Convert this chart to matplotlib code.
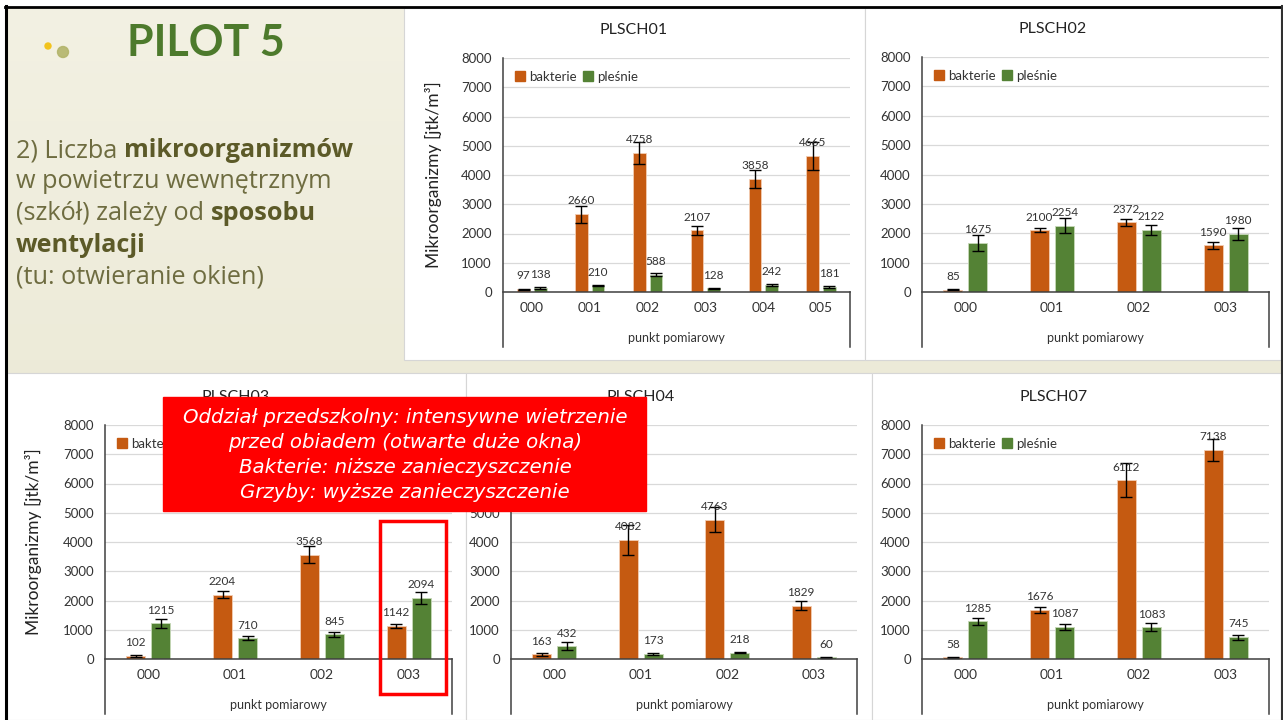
import numpy as np
import matplotlib
matplotlib.use('Agg')
import matplotlib.pyplot as plt
from matplotlib.patches import Rectangle, Circle, Patch
from matplotlib.colors import LinearSegmentedColormap

# ---------------------------------------------------------------- data
CATS6 = ['000', '001', '002', '003', '004', '005']
CATS4 = ['000', '001', '002', '003']

pl01_bak = [97, 2660, 4758, 2107, 3858, 4665]
pl01_ple = [138, 210, 588, 128, 242, 181]
pl01_bak_err = [20, 290, 370, 160, 310, 480]
pl01_ple_err = [20, 20, 50, 15, 25, 35]

pl02_bak = [85, 2100, 2372, 1590]
pl02_ple = [1675, 2254, 2122, 1980]
pl02_bak_err = [15, 65, 115, 120]
pl02_ple_err = [270, 255, 170, 205]

pl03_bak = [102, 2204, 3568, 1142]
pl03_ple = [1215, 710, 845, 2094]
pl03_bak_err = [20, 120, 285, 70]
pl03_ple_err = [150, 75, 85, 205]

pl04_bak = [163, 4082, 4763, 1829]
pl04_ple = [432, 173, 218, 60]
pl04_bak_err = [55, 510, 420, 140]
pl04_ple_err = [140, 30, 20, 15]

pl07_bak = [58, 1676, 6112, 7138]
pl07_ple = [1285, 1087, 1083, 745]
pl07_bak_err = [10, 90, 590, 380]
pl07_ple_err = [110, 110, 140, 90]

NOTE_LINES = ['Oddział przedszkolny: intensywne wietrzenie',
              'przed obiadem (otwarte duże okna)',
              'Bakterie: niższe zanieczyszczenie',
              'Grzyby: wyższe zanieczyszczenie']

# ---------------------------------------------------------------- style
C_ORANGE, C_GREEN = '#c55a11', '#548235'
C_AXIS, C_TEXT, C_GRID = '#404040', '#333333', '#d9d9d9'
C_TITLE, C_BODY, C_BODY_B = '#4d7a2c', '#6e6c40', '#5c5a28'
plt.rcParams['font.family'] = ['Lato', 'DejaVu Sans']

W, H = 1283, 720
fig = plt.figure(figsize=(W / 100, H / 100), dpi=100)


def px_axes(x0, y0, x1, y1, **kw):
    return fig.add_axes([x0 / W, 1 - y1 / H, (x1 - x0) / W, (y1 - y0) / H], **kw)


# ---------------------------------------------------------------- slide background
bg = fig.add_axes([0, 0, 1, 1])
bg.set_xlim(0, W)
bg.set_ylim(H, 0)
bg.axis('off')
grad = np.linspace(0, 1, 256).reshape(-1, 1)
bg.imshow(grad, cmap=LinearSegmentedColormap.from_list('bg', ['#f3f1e3', '#e7e5cf']),
          extent=[0, W, H, 0], aspect='auto', zorder=0)
bg.add_patch(Rectangle((0, 0), W, 6, color='white', zorder=1))
bg.add_patch(Rectangle((0, 0), 5, H, color='white', zorder=1))

# white chart panels
for (x0, y0, x1, y1) in [(404, 8, 865, 360), (865, 8, 1281, 360),
                         (7, 373, 466, 720), (466, 373, 872, 720), (872, 373, 1281, 720)]:
    bg.add_patch(Rectangle((x0, y0), x1 - x0, y1 - y0, facecolor='white',
                           edgecolor='#d6d6d6', lw=0.8, zorder=2))

bg.plot([5, W], [7, 7], color='black', lw=2, zorder=3)
bg.plot([6, 6], [6, H], color='black', lw=2.2, zorder=3)
bg.plot([1281.5, 1281.5], [6, H], color='#303030', lw=1.5, zorder=3)

# decorative dots
bg.add_patch(Circle((63, 52), 5.5, color='#b3b46a', alpha=0.9, zorder=3))
bg.add_patch(Circle((48, 46), 3, color='#f2c31c', zorder=3))

bg.text(127, 56, 'PILOT 5', fontsize=31, fontweight='bold', color=C_TITLE,
        va='baseline', ha='left', zorder=4)

renderer = fig.canvas.get_renderer()


def rich_line(x, y, parts, size=18.2):
    for txt, bold in parts:
        t = bg.text(x, y, txt, fontsize=size, va='baseline', ha='left', zorder=4,
                    family=['Open Sans', 'DejaVu Sans'],
                    fontweight='bold' if bold else 'normal',
                    color=C_BODY_B if bold else C_BODY)
        x += t.get_window_extent(renderer).width


rich_line(16, 157, [('2) Liczba ', False), ('mikroorganizmów', True)])
rich_line(16, 188, [('w powietrzu wewnętrznym', False)])
rich_line(16, 220, [('(szkół) zależy od ', False), ('sposobu', True)])
rich_line(16, 252, [('wentylacji', True)])
rich_line(16, 283, [('(tu: otwieranie okien)', False)])


# ---------------------------------------------------------------- charts
def draw_chart(rect, title, title_x, cats, bak, ple, bak_err, ple_err, ylabel_x=None):
    x0, y0, x1, y1 = rect
    w_px, h_px = x1 - x0, y1 - y0
    ax = px_axes(x0, y0, x1, y1)
    ax.set_facecolor('none')
    x = np.arange(len(cats))
    bw, off = 0.22, 0.145

    ax.bar(x - off, bak, bw, color=C_ORANGE, edgecolor='#f3cdb3', lw=0.6, zorder=2)
    ax.bar(x + off, ple, bw, color=C_GREEN, edgecolor='#c6d8b8', lw=0.6, zorder=2)
    ax.errorbar(x - off, bak, yerr=bak_err, fmt='none', ecolor='black',
                elinewidth=1, capsize=4, capthick=1, zorder=3)
    ax.errorbar(x + off, ple, yerr=ple_err, fmt='none', ecolor='black',
                elinewidth=1, capsize=4, capthick=1, zorder=3)
    for xs, vals in [(x - off, bak), (x + off, ple)]:
        for xi, v in zip(xs, vals):
            ax.annotate(f'{v}', (xi, v), xytext=(0, 7), textcoords='offset points',
                        ha='center', va='baseline', fontsize=8.5, color=C_TEXT, zorder=4)

    ax.set_xlim(-0.5, len(cats) - 0.5)
    ax.set_ylim(0, 8000)
    ax.set_yticks(range(0, 8001, 1000))
    ax.set_xticks(x, cats)
    ax.yaxis.grid(True, color=C_GRID, lw=0.9)
    ax.set_axisbelow(True)
    for s in ax.spines.values():
        s.set_visible(False)
    ax.tick_params(axis='y', length=0, labelsize=9.5, pad=8, labelcolor=C_TEXT)
    ax.tick_params(axis='x', length=0, labelsize=10, pad=7, labelcolor=C_TEXT)

    ax.plot([0, 1], [0, 0], transform=ax.transAxes, color=C_AXIS, lw=1.1, clip_on=False, zorder=5)
    ax.plot([0, 0], [-55 / h_px, 1], transform=ax.transAxes, color=C_AXIS, lw=1.1, clip_on=False)
    ax.plot([1, 1], [-55 / h_px, 0], transform=ax.transAxes, color=C_AXIS, lw=1.1, clip_on=False)
    ax.text(0.5, -46 / h_px, 'punkt pomiarowy', transform=ax.transAxes,
            ha='center', va='center', fontsize=9, color=C_TEXT)
    ax.text((title_x - x0) / w_px, 1 + 28 / h_px, title, transform=ax.transAxes,
            ha='center', va='center', fontsize=11.5, color='#222222')
    if ylabel_x is not None:
        ax.text((ylabel_x - x0) / w_px, 0.5, 'Mikroorganizmy [jtk/m³]', transform=ax.transAxes,
                rotation=90, ha='center', va='center', fontsize=12.5, color='#222222')
    ax.legend(handles=[Patch(color=C_ORANGE, label='bakterie'),
                       Patch(color=C_GREEN, label='pleśnie')],
              loc='upper left', bbox_to_anchor=(0.035, 0.945), ncol=2, frameon=False,
              handlelength=0.75, handleheight=0.75, handletextpad=0.3, columnspacing=0.5,
              fontsize=9.5, borderaxespad=0, borderpad=0, labelcolor=C_TEXT)
    return ax


draw_chart((503, 58, 850, 292), 'PLSCH01', 634, CATS6,
           pl01_bak, pl01_ple, pl01_bak_err, pl01_ple_err, ylabel_x=433)
draw_chart((922, 57, 1269, 292), 'PLSCH02', 1053, CATS4,
           pl02_bak, pl02_ple, pl02_bak_err, pl02_ple_err)
draw_chart((105, 425, 452, 659), 'PLSCH03', 236, CATS4,
           pl03_bak, pl03_ple, pl03_bak_err, pl03_ple_err, ylabel_x=33)
draw_chart((511, 425, 857, 659), 'PLSCH04', 641, CATS4,
           pl04_bak, pl04_ple, pl04_bak_err, pl04_ple_err)
draw_chart((922, 425, 1269, 659), 'PLSCH07', 1054, CATS4,
           pl07_bak, pl07_ple, pl07_bak_err, pl07_ple_err)

# ---------------------------------------------------------------- overlay note
top = fig.add_axes([0, 0, 1, 1], facecolor='none')
top.set_xlim(0, W)
top.set_ylim(H, 0)
top.axis('off')
top.add_patch(Rectangle((163, 397), 483, 114, color='#ff0000'))
for i, line in enumerate(NOTE_LINES):
    top.text(405, 423 + 25 * i, line, ha='center', va='baseline', color='white',
             fontsize=14.2, style='italic', family='DejaVu Sans')
top.add_patch(Rectangle((380, 521), 66, 173, fill=False, edgecolor='#ff0000', lw=2.5))

fig.savefig('out.png', dpi=100)
